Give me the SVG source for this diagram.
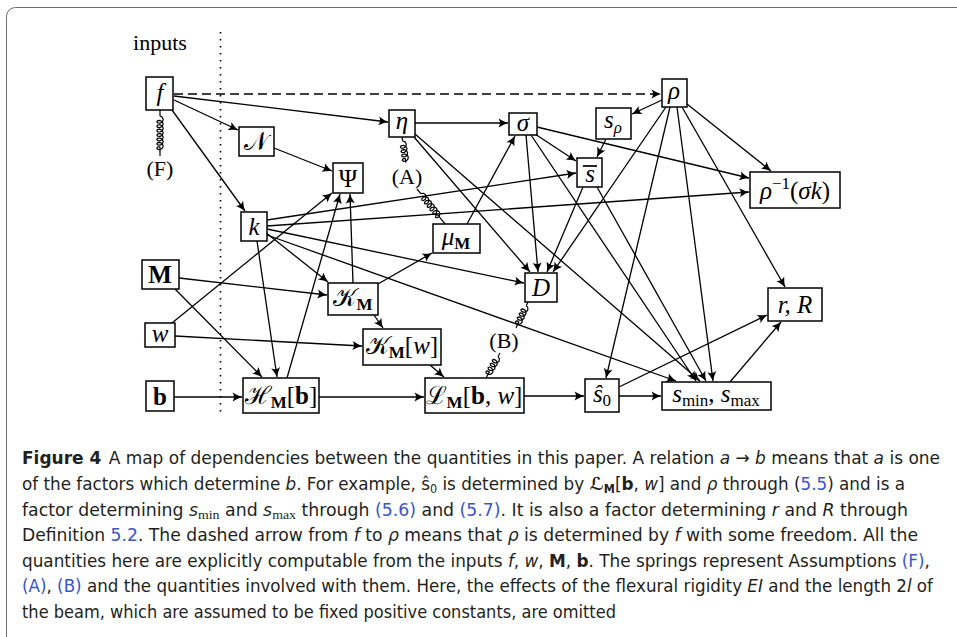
<svg xmlns="http://www.w3.org/2000/svg" xmlns:xlink="http://www.w3.org/1999/xlink" width="957" height="637" viewBox="0 0 957 637">
<style>
.box{fill:#fff;stroke:#000;stroke-width:1.5}
.m{font-family:"Liberation Serif","DejaVu Serif",serif;font-size:25px;fill:#000;text-anchor:middle}
.i{font-style:italic}
.bd{font-weight:bold}
.sub{font-size:17px}
.lab{font-family:"Liberation Serif","DejaVu Serif",serif;font-size:22px;fill:#000;text-anchor:middle}
.e{fill:none;stroke:#000;stroke-width:1.3;marker-end:url(#ah)}
.sp{fill:none;stroke:#000;stroke-width:1.2;stroke-linejoin:round}
.cap{font-family:"Liberation Sans Narrow","DejaVu Sans Condensed","Open Sans",sans-serif;font-size:18px;fill:#231f20}
.lnk{fill:#3a55c8}
</style>
<defs>
<marker id="ah" viewBox="-10 -5 11 10" refX="0" refY="0" markerWidth="11" markerHeight="10" markerUnits="userSpaceOnUse" orient="auto">
<path d="M-9.5,-4.5 Q-4,-1.2 0,0 Q-4,1.2 -9.5,4.5 Q-6.5,0 -9.5,-4.5 Z" fill="#000"/>
</marker>
<path id="coil4" class="sp" d="M0,0 l1.28,-2.26 2.32,-0.94 2.32,0.94 1.28,2.26 -0.18,2.26 -1.22,0.94 -1.22,-0.94 -0.18,-2.26 l1.28,-2.26 2.32,-0.94 2.32,0.94 1.28,2.26 -0.18,2.26 -1.22,0.94 -1.22,-0.94 -0.18,-2.26 l1.28,-2.26 2.32,-0.94 2.32,0.94 1.28,2.26 -0.18,2.26 -1.22,0.94 -1.22,-0.94 -0.18,-2.26 l1.28,-2.26 2.32,-0.94 2.32,0.94 1.28,2.26 -0.18,2.26 -1.22,0.94 -1.22,-0.94 -0.18,-2.26"/>
<path id="coil6" class="sp" d="M0,0 l1.28,-2.26 2.32,-0.94 2.32,0.94 1.28,2.26 -0.18,2.26 -1.22,0.94 -1.22,-0.94 -0.18,-2.26 l1.28,-2.26 2.32,-0.94 2.32,0.94 1.28,2.26 -0.18,2.26 -1.22,0.94 -1.22,-0.94 -0.18,-2.26 l1.28,-2.26 2.32,-0.94 2.32,0.94 1.28,2.26 -0.18,2.26 -1.22,0.94 -1.22,-0.94 -0.18,-2.26 l1.28,-2.26 2.32,-0.94 2.32,0.94 1.28,2.26 -0.18,2.26 -1.22,0.94 -1.22,-0.94 -0.18,-2.26 l1.28,-2.26 2.32,-0.94 2.32,0.94 1.28,2.26 -0.18,2.26 -1.22,0.94 -1.22,-0.94 -0.18,-2.26 l1.28,-2.26 2.32,-0.94 2.32,0.94 1.28,2.26 -0.18,2.26 -1.22,0.94 -1.22,-0.94 -0.18,-2.26"/>
<path id="coil7" class="sp" d="M0,0 l1.28,-2.26 2.32,-0.94 2.32,0.94 1.28,2.26 -0.18,2.26 -1.22,0.94 -1.22,-0.94 -0.18,-2.26 l1.28,-2.26 2.32,-0.94 2.32,0.94 1.28,2.26 -0.18,2.26 -1.22,0.94 -1.22,-0.94 -0.18,-2.26 l1.28,-2.26 2.32,-0.94 2.32,0.94 1.28,2.26 -0.18,2.26 -1.22,0.94 -1.22,-0.94 -0.18,-2.26 l1.28,-2.26 2.32,-0.94 2.32,0.94 1.28,2.26 -0.18,2.26 -1.22,0.94 -1.22,-0.94 -0.18,-2.26 l1.28,-2.26 2.32,-0.94 2.32,0.94 1.28,2.26 -0.18,2.26 -1.22,0.94 -1.22,-0.94 -0.18,-2.26 l1.28,-2.26 2.32,-0.94 2.32,0.94 1.28,2.26 -0.18,2.26 -1.22,0.94 -1.22,-0.94 -0.18,-2.26 l1.28,-2.26 2.32,-0.94 2.32,0.94 1.28,2.26 -0.18,2.26 -1.22,0.94 -1.22,-0.94 -0.18,-2.26"/>
</defs>
<rect width="957" height="637" fill="#fff"/>
<rect x="6.5" y="7.5" width="1000" height="700" rx="9" fill="none" stroke="#6d6d6d" stroke-width="1"/>

<text class="lab" x="160" y="50" font-size="24">inputs</text>
<line x1="220.5" y1="32" x2="220.5" y2="412" stroke="#000" stroke-width="1.6" stroke-dasharray="1.4 5.6"/>

<g id="connectors">
<path class="e" d="M174,94 L661,94" stroke-dasharray="9 5"/>
<path class="e" d="M174,96 L388,122"/>
<path class="e" d="M174,100 L238,130"/>
<path class="e" d="M172,110 L245,211"/>
<path class="e" d="M274,148 L332,171"/>
<path class="e" d="M415,123 L508,123"/>
<path class="e" d="M414,137 L530,272"/>
<path class="e" d="M415,134 L700,381"/>
<path class="e" d="M535,134 L576,161"/>
<path class="e" d="M537,127 L749,178"/>
<path class="e" d="M526,135 L538,272"/>
<path class="e" d="M531,135 L696,381"/>
<path class="e" d="M662,100 L632,114"/>
<path class="e" d="M606,139 L597,157"/>
<path class="e" d="M687,104 L771,171"/>
<path class="e" d="M666,107 L553,272"/>
<path class="e" d="M670,107 L606,378"/>
<path class="e" d="M677,107 L713,381"/>
<path class="e" d="M682,107 L785,287"/>
<path class="e" d="M583,187 L547,272"/>
<path class="e" d="M597,187 L706,381"/>
<path class="e" d="M267,220 L576,173"/>
<path class="e" d="M267,226 L749,192"/>
<path class="e" d="M265,232 L328,282"/>
<path class="e" d="M267,229 L524,283"/>
<path class="e" d="M267,235 L676,381"/>
<path class="e" d="M257,241 L277,377"/>
<path class="e" d="M179,278 L327,295"/>
<path class="e" d="M175,289 L262,377"/>
<path class="e" d="M175,336 L362,346"/>
<path class="e" d="M172,323 L332,193"/>
<path class="e" d="M174,397 L242,397"/>
<path class="e" d="M319,397 L424,397"/>
<path class="e" d="M374,315 L383,328"/>
<path class="e" d="M378,284 L432,253"/>
<path class="e" d="M430,365 L444,377"/>
<path class="e" d="M524,396 L584,396"/>
<path class="e" d="M619,396 L661,396"/>
<path class="e" d="M619,387 L767,315"/>
<path class="e" d="M730,382 L781,322"/>
<path class="e" d="M467,224 L515,136"/>
<path class="e" d="M287,378 L340,194"/>
<path class="e" d="M353,283 L350,194"/>
</g>

<g id="springs">
<g transform="translate(160,110) rotate(90)">
<path class="sp" d="M0,0 H6 M36.8,0 H46"/>
<use xlink:href="#coil7" x="6"/>
</g>
<g transform="translate(402,137) rotate(81.3)">
<path class="sp" d="M0,0 H4 M21.6,0 H26"/>
<use xlink:href="#coil4" x="4"/>
</g>
<g transform="translate(417,189) rotate(51.3)">
<path class="sp" d="M0,0 H6 M32.4,0 H44.8"/>
<use xlink:href="#coil6" x="6"/>
</g>
<g transform="translate(528,302) rotate(114.8)">
<path class="sp" d="M0,0 H4 M21.6,0 H28.6"/>
<use xlink:href="#coil4" x="4"/>
</g>
<g transform="translate(500,353) rotate(119.2)">
<path class="sp" d="M0,0 H4 M21.6,0 H28.7"/>
<use xlink:href="#coil4" x="4"/>
</g>
<text class="lab" x="160" y="176">(F)</text>
<text class="lab" x="407" y="184">(A)</text>
<text class="lab" x="504" y="348">(B)</text>
</g>

<g id="n-f"><rect class="box" x="146" y="77" width="27" height="33"/><text class="m i" x="160" y="101">f</text></g>
<g id="n-N"><rect class="box" x="239" y="127" width="35" height="29"/><text class="m" x="256" y="150">𝒩</text></g>
<g id="n-Psi"><rect class="box" x="333" y="163" width="30" height="30"/><text class="m" x="348" y="187">Ψ</text></g>
<g id="n-eta"><rect class="box" x="389" y="110" width="26" height="27"/><text class="m i" x="402" y="129">η</text></g>
<g id="n-sigma"><rect class="box" x="509" y="113" width="28" height="22"/><text class="m i" x="523" y="131">σ</text></g>
<g id="n-rho"><rect class="box" x="662" y="79" width="25" height="28"/><text class="m i" x="674" y="99">ρ</text></g>
<g id="n-srho"><rect class="box" x="596" y="108" width="35" height="31"/><text class="m" x="613" y="128"><tspan class="i">s</tspan><tspan class="i sub" dy="5">ρ</tspan></text></g>
<g id="n-sbar"><rect class="box" x="577" y="158" width="25" height="29"/><text class="m i" x="590" y="182">s</text><line x1="583" y1="166" x2="597" y2="166" stroke="#000" stroke-width="1.7"/></g>
<g id="n-rhoinv"><rect class="box" x="750" y="172" width="90" height="36"/><text class="m" x="795" y="199"><tspan class="i">ρ</tspan><tspan class="sub" dy="-10">−1</tspan><tspan dy="10">(</tspan><tspan class="i">σk</tspan>)</text></g>
<g id="n-mu"><rect class="box" x="433" y="224" width="47" height="29"/><text class="m" x="456" y="245"><tspan class="i">μ</tspan><tspan class="bd sub" dy="4">M</tspan></text></g>
<g id="n-k"><rect class="box" x="241" y="212" width="26" height="29"/><text class="m i" x="254" y="235">k</text></g>
<g id="n-M"><rect class="box" x="142" y="260" width="37" height="29"/><text class="m bd" x="160" y="283">M</text></g>
<g id="n-KM"><rect class="box" x="328" y="283" width="50" height="32"/><text class="m" x="353" y="306"><tspan>𝒦</tspan><tspan class="bd sub" dy="4">M</tspan></text></g>
<g id="n-w"><rect class="box" x="145" y="323" width="30" height="24"/><text class="m i" x="160" y="342">w</text></g>
<g id="n-KMw"><rect class="box" x="363" y="329" width="78" height="36"/><text class="m" x="402" y="354"><tspan>𝒦</tspan><tspan class="bd sub" dy="4">M</tspan><tspan dy="-4">[</tspan><tspan class="i">w</tspan>]</text></g>
<g id="n-b"><rect class="box" x="146" y="381" width="28" height="30"/><text class="m bd" x="160" y="405">b</text></g>
<g id="n-H"><rect class="box" x="243" y="378" width="76" height="35"/><text class="m" x="281" y="404"><tspan>ℋ</tspan><tspan class="bd sub" dy="4">M</tspan><tspan dy="-4">[</tspan><tspan class="bd">b</tspan>]</text></g>
<g id="n-L"><rect class="box" x="425" y="378" width="99" height="35"/><text class="m" x="474" y="404"><tspan>ℒ</tspan><tspan class="bd sub" dy="4">M</tspan><tspan dy="-4">[</tspan><tspan class="bd">b</tspan>, <tspan class="i">w</tspan>]</text></g>
<g id="n-D"><rect class="box" x="525" y="273" width="32" height="29"/><text class="m i" x="541" y="296">D</text></g>
<g id="n-s0"><rect class="box" x="585" y="379" width="34" height="33"/><text class="m" x="602" y="402"><tspan class="i">ŝ</tspan><tspan class="sub" dy="4">0</tspan></text></g>
<g id="n-smin"><rect class="box" x="662" y="382" width="109" height="28"/><text class="m" x="716" y="402"><tspan class="i">s</tspan><tspan class="sub" dy="4">min</tspan><tspan dy="-4">, </tspan><tspan class="i">s</tspan><tspan class="sub" dy="4">max</tspan></text></g>
<g id="n-rR"><rect class="box" x="768" y="288" width="54" height="33"/><text class="m i" x="795" y="313">r, R</text></g>

<g id="caption">
<text class="cap" x="22" y="464" textLength="918" lengthAdjust="spacingAndGlyphs"><tspan font-weight="bold">Figure 4</tspan><tspan dx="7">A map of dependencies between the quantities in this paper. A relation </tspan><tspan font-style="italic">a</tspan> → <tspan font-style="italic">b</tspan> means that <tspan font-style="italic">a</tspan> is one</text>
<text class="cap" x="22" y="490" textLength="883" lengthAdjust="spacingAndGlyphs">of the factors which determine <tspan font-style="italic">b</tspan>. For example, ŝ<tspan font-size="12" dy="3">0</tspan><tspan dy="-3"> is determined by </tspan><tspan font-style="italic" font-weight="bold">ℒ</tspan><tspan font-weight="bold" font-size="12" dy="3">M</tspan><tspan dy="-3">[</tspan><tspan font-weight="bold">b</tspan>, <tspan font-style="italic">w</tspan>] and <tspan font-style="italic">ρ</tspan> through (<tspan class="lnk">5.5</tspan>) and is a</text>
<text class="cap" x="22" y="516" textLength="886" lengthAdjust="spacingAndGlyphs">factor determining <tspan font-style="italic">s</tspan><tspan font-size="13" dy="3" font-family="Liberation Serif, serif">min</tspan><tspan dy="-3"> and </tspan><tspan font-style="italic">s</tspan><tspan font-size="13" dy="3" font-family="Liberation Serif, serif">max</tspan><tspan dy="-3"> through </tspan><tspan class="lnk">(5.6)</tspan> and <tspan class="lnk">(5.7)</tspan>. It is also a factor determining <tspan font-style="italic">r</tspan> and <tspan font-style="italic">R</tspan> through</text>
<text class="cap" x="22" y="541" textLength="896" lengthAdjust="spacingAndGlyphs">Definition <tspan class="lnk">5.2</tspan>. The dashed arrow from <tspan font-style="italic">f</tspan> to <tspan font-style="italic">ρ</tspan> means that <tspan font-style="italic">ρ</tspan> is determined by <tspan font-style="italic">f</tspan> with some freedom. All the</text>
<text class="cap" x="22" y="567" textLength="908" lengthAdjust="spacingAndGlyphs">quantities here are explicitly computable from the inputs <tspan font-style="italic">f</tspan>, <tspan font-style="italic">w</tspan>, <tspan font-weight="bold">M</tspan>, <tspan font-weight="bold">b</tspan>. The springs represent Assumptions <tspan class="lnk">(F)</tspan>,</text>
<text class="cap" x="22" y="592" textLength="911" lengthAdjust="spacingAndGlyphs"><tspan class="lnk">(A)</tspan>, <tspan class="lnk">(B)</tspan> and the quantities involved with them. Here, the effects of the flexural rigidity <tspan font-style="italic">EI</tspan> and the length 2<tspan font-style="italic">l</tspan> of</text>
<text class="cap" x="22" y="618" textLength="594" lengthAdjust="spacingAndGlyphs">the beam, which are assumed to be fixed positive constants, are omitted</text>
</g>
</svg>
